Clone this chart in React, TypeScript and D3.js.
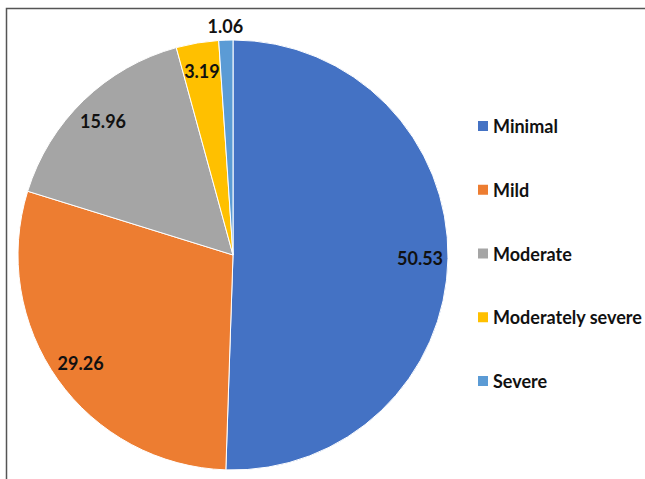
import React, { useEffect, useRef } from "react";
import * as d3 from "d3";

const categories = ["Minimal", "Mild", "Moderate", "Moderately severe", "Severe"];
const values = [50.53, 29.26, 15.96, 3.19, 1.06];
const colors = ["#4472C4", "#ED7D31", "#A5A5A5", "#FFC000", "#5B9BD5"];

export default function App() {
	const svgRef = useRef<SVGSVGElement>(null);

	useEffect(() => {
		if (!svgRef.current) return;
		const svg = d3.select(svgRef.current);
		svg.selectAll("*").remove();

		const width = 645;
		const height = 479;
		const cx = 233;
		const cy = 255;
		const radius = 215;
		const font = "Lato, 'Open Sans', sans-serif";

		// chart frame (runs off right / bottom edge)
		svg
			.append("path")
			.attr("d", `M6.5,${height + 5}V8.5H${width + 5}`)
			.attr("fill", "none")
			.attr("stroke", "#555")
			.attr("stroke-width", 1.5);

		const data = categories.map((c, i) => ({ name: c, value: values[i], color: colors[i] }));

		const pie = d3
			.pie<any>()
			.value((d) => d.value)
			.sort(null);
		const arcs = pie(data);

		const arc = d3.arc<any>().innerRadius(0).outerRadius(radius);

		const g = svg.append("g").attr("transform", `translate(${cx},${cy})`);

		g.selectAll("path.slice")
			.data(arcs)
			.enter()
			.append("path")
			.attr("class", "slice")
			.attr("d", arc)
			.attr("fill", (d) => d.data.color)
			.attr("stroke", "#fff")
			.attr("stroke-width", 1);

		const inner = d3.arc<any>().innerRadius(radius * 0.87).outerRadius(radius * 0.87);
		const outer = d3.arc<any>().innerRadius(radius * 1.065).outerRadius(radius * 1.065);

		g.selectAll("text.lbl")
			.data(arcs)
			.enter()
			.append("text")
			.attr("class", "lbl")
			.attr("transform", (d) => {
				const p = d.data.value < 2 ? outer.centroid(d) : inner.centroid(d);
				return `translate(${p[0]},${p[1]})`;
			})
			.attr("text-anchor", "middle")
			.attr("dominant-baseline", "central")
			.attr("font-family", font)
			.attr("font-weight", 700)
			.attr("font-size", 18)
			.attr("fill", "#111")
			.text((d) => d.data.value.toFixed(2));

		// legend
		const legendY = d3
			.scalePoint<string>()
			.domain(categories)
			.range([126, 381]);

		const legend = svg
			.append("g")
			.selectAll("g")
			.data(data)
			.enter()
			.append("g")
			.attr("transform", (d) => `translate(478,${legendY(d.name)})`);

		legend
			.append("rect")
			.attr("x", 0)
			.attr("y", -5)
			.attr("width", 10)
			.attr("height", 10)
			.attr("fill", (d) => d.color);

		legend
			.append("text")
			.attr("x", 15)
			.attr("y", 0)
			.attr("dominant-baseline", "central")
			.attr("font-family", font)
			.attr("font-weight", 700)
			.attr("font-size", 18)
			.attr("fill", "#111")
			.text((d) => d.name);
	}, []);

	return (
		<svg
			ref={svgRef}
			width={645}
			height={479}
			style={{ position: "absolute", left: 0, top: 0, background: "#fff" }}
		/>
	);
}
